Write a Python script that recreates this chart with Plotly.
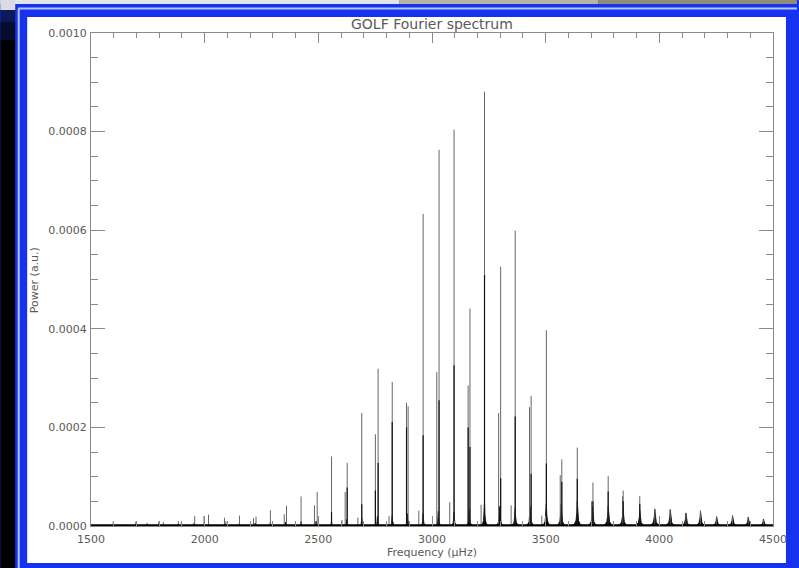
import plotly.graph_objects as go

# ---------------- data ----------------
freq_range = [1500, 4500]
power_range = [0.0, 0.0010]

x_tick_vals = [1500, 2000, 2500, 3000, 3500, 4000, 4500]
y_tick_vals = [0.0, 0.0002, 0.0004, 0.0006, 0.0008, 0.0010]
y_tick_text = ["0.0000", "0.0002", "0.0004", "0.0006", "0.0008", "0.0010"]

# thin spikes (mode peaks): frequency (µHz) and power (a.u.)
peak_freq = [1598, 1632, 1697, 1747, 1798, 1818, 1884, 1897, 1950, 1956,
             1997, 2017, 2087, 2093, 2153, 2215, 2226, 2289, 2350, 2360,
             2424, 2483, 2495, 2558, 2604, 2618, 2627, 2674, 2691, 2751,
             2763, 2811, 2825, 2888, 2895, 2942, 2961, 3021, 3031, 3078,
             3097, 3159, 3167, 3216, 3231, 3293, 3302, 3348, 3366, 3429,
             3436, 3483, 3503, 3564, 3571, 3639, 3702, 3708, 3775, 3838,
             3841, 3914, 3980, 4048, 4117, 4181, 4252, 4322, 4391, 4458]
peak_power = [9e-6, 3e-6, 9e-6, 6.5e-6, 9e-6, 8e-6, 1.0e-5, 8e-6, 6e-6, 2.0e-5,
              1.96e-5, 2.3e-5, 1.7e-5, 1.0e-5, 2.1e-5, 1.6e-5, 1.9e-5, 3.2e-5, 2.4e-5, 4.1e-5,
              6.0e-5, 4.2e-5, 6.9e-5, 1.41e-4, 1.2e-5, 6.9e-5, 1.28e-4, 1.7e-5, 2.29e-4, 1.86e-4,
              3.19e-4, 2.0e-5, 2.92e-4, 2.50e-4, 2.43e-4, 3.1e-5, 6.33e-4, 3.12e-4, 7.63e-4, 4.8e-5,
              8.04e-4, 2.85e-4, 4.41e-4, 4.3e-5, 8.81e-4, 2.29e-4, 5.26e-4, 4.2e-5, 5.99e-4, 2.41e-4,
              2.64e-4, 2.1e-5, 3.97e-4, 1.03e-4, 1.35e-4, 1.59e-4, 5.0e-5, 8.8e-5, 1.01e-4, 6.0e-5,
              7.2e-5, 6.1e-5, 3.5e-5, 3.4e-5, 2.7e-5, 3.2e-5, 1.9e-5, 2.1e-5, 1.8e-5, 1.3e-5]

# dark (overlapping) lower parts of the spikes
core_freq = [2558, 2627, 2691, 2751, 2763, 2825, 2888, 2961, 3031, 3097,
             3159, 3167, 3231, 3302, 3366, 3436, 3503, 3571, 3639, 3708,
             3775, 3841, 3914]
core_power = [2.8e-5, 7.8e-5, 4.4e-5, 7.2e-5, 1.28e-4, 2.11e-4, 2.0e-4, 1.84e-4, 2.55e-4, 3.26e-4,
              2.0e-4, 1.6e-4, 5.09e-4, 9.7e-5, 2.22e-4, 1.06e-4, 1.27e-4, 9.0e-5, 9.6e-5, 5.0e-5,
              7.0e-5, 5.0e-5, 4.5e-5]

# broad black bases of the mode profiles: centre, height, half-width (µHz)
hump_freq = [1956, 2017, 2090, 2153, 2222, 2289, 2356, 2424, 2490, 2558,
             2624, 2691, 2760, 2825, 2892, 2961, 3028, 3097, 3164, 3231,
             3298, 3366, 3432, 3503, 3568, 3639, 3706, 3775, 3840, 3914,
             3980, 4048, 4117, 4181, 4252, 4322, 4391, 4458]
hump_power = [4e-6, 4e-6, 5e-6, 5e-6, 6e-6, 7e-6, 8e-6, 9e-6, 1.0e-5, 1.1e-5,
              1.3e-5, 1.6e-5, 2.0e-5, 2.1e-5, 2.5e-5, 2.6e-5, 3.0e-5, 2.8e-5, 3.5e-5, 4.7e-5,
              4.0e-5, 3.6e-5, 4.0e-5, 4.5e-5, 4.5e-5, 5.0e-5, 4.0e-5, 4.0e-5, 3.6e-5, 3.2e-5,
              3.4e-5, 3.3e-5, 2.6e-5, 3.0e-5, 1.9e-5, 2.1e-5, 1.8e-5, 1.4e-5]
hump_halfwidth = [6, 6, 7, 7, 8, 8, 9, 9, 10, 10,
                  11, 12, 13, 14, 15, 16, 17, 18, 19, 20,
                  21, 22, 23, 24, 25, 26, 27, 28, 28, 29,
                  30, 30, 30, 30, 30, 30, 30, 30]

# noise floor along the bottom
noise_freq = [1500, 4500]
noise_power = [1.5e-6, 1.5e-6]

title_text = "GOLF Fourier spectrum"
x_title = "Frequency (\u03bcHz)"
y_title = "Power (a.u.)"

# ---------------- geometry / styles ----------------
W, H = 799, 568
ML, MR, MT, MB = 91, 24, 33, 42
PW, PH = W - ML - MR, H - MT - MB


def xp(px):
    return (px - ML) / PW


def yp(py):
    return (H - MB - py) / PH


FONT = "DejaVu Sans"
TXT = "#5a5a5a"
AX = "#8a8a8a"


def stems(fs, ps):
    xs, ys = [], []
    for f, p in zip(fs, ps):
        xs += [f, f, None]
        ys += [0, p, None]
    return xs, ys


# profile template of a mode base (relative units)
prof_x = [-1.0, -0.5, -0.22, -0.07, 0.0, 0.07, 0.22, 0.5, 1.0]
prof_y = [0.0, 0.07, 0.22, 0.55, 1.0, 0.55, 0.22, 0.07, 0.0]

hx, hy = [], []
for f, p, w in zip(hump_freq, hump_power, hump_halfwidth):
    hx += [f + w * r for r in prof_x] + [None]
    hy += [p * r for r in prof_y] + [None]

fig = go.Figure()

fig.add_trace(go.Scatter(x=hx, y=hy, mode="lines", fill="toself",
                         fillcolor="#000000", line=dict(color="#000000", width=0.8),
                         hoverinfo="skip", showlegend=False))
sx, sy = stems(peak_freq, peak_power)
fig.add_trace(go.Scatter(x=sx, y=sy, mode="lines",
                         line=dict(color="#666666", width=1),
                         hoverinfo="skip", showlegend=False))
cx, cy = stems(core_freq, core_power)
fig.add_trace(go.Scatter(x=cx, y=cy, mode="lines",
                         line=dict(color="#111111", width=1.2),
                         hoverinfo="skip", showlegend=False))
fig.add_trace(go.Scatter(x=noise_freq, y=noise_power, mode="lines",
                         line=dict(color="#000000", width=2),
                         hoverinfo="skip", showlegend=False))

# ---------------- frame (slide border) ----------------
shapes = []


def rect(x0, y0, x1, y1, color):
    shapes.append(dict(type="rect", xref="paper", yref="paper",
                       x0=xp(x0), x1=xp(x1), y0=yp(y1), y1=yp(y0),
                       fillcolor=color, line=dict(width=0), layer="below"))


def hline(x0, x1, y, color, width):
    shapes.append(dict(type="line", xref="paper", yref="paper",
                       x0=xp(x0), x1=xp(x1), y0=yp(y), y1=yp(y),
                       line=dict(color=color, width=width), layer="below"))


def vline(x, y0, y1, color, width):
    shapes.append(dict(type="line", xref="paper", yref="paper",
                       x0=xp(x), x1=xp(x), y0=yp(y0), y1=yp(y1),
                       line=dict(color=color, width=width), layer="below"))


rect(0, 0, 400, 4, "#e1e5e9")
rect(400, 0, 600, 4, "#b7b4a2")
rect(600, 0, 799, 4, "#8f8d77")
rect(0, 0, 15, 10, "#d9dde2")
rect(0, 10, 15, 22, "#0c1a5c")
rect(0, 22, 15, 40, "#060c2e")
rect(0, 40, 15, 568, "#000000")
hline(18, 799, 8.5, "#b8c3ff", 2)
vline(18.5, 8.5, 568, "#b8c3ff", 2)
rect(27, 17, 788, 563, "#ffffff")

annotations = [
    dict(text=title_text, xref="paper", yref="paper", x=xp(433), y=yp(23.5),
         xanchor="center", yanchor="middle", showarrow=False,
         font=dict(family=FONT, size=14, color=TXT)),
    dict(text=x_title, xref="paper", yref="paper", x=xp(433), y=yp(552),
         xanchor="center", yanchor="middle", showarrow=False,
         font=dict(family=FONT, size=11, color=TXT)),
    dict(text=y_title, xref="paper", yref="paper", x=xp(34), y=yp(280),
         xanchor="center", yanchor="middle", showarrow=False, textangle=-90,
         font=dict(family=FONT, size=11, color=TXT)),
]

fig.update_layout(
    width=W, height=H,
    margin=dict(l=ML, r=MR, t=MT, b=MB, pad=0),
    paper_bgcolor="#1532ef",
    plot_bgcolor="#ffffff",
    showlegend=False,
    shapes=shapes,
    annotations=annotations,
    xaxis=dict(range=freq_range, tickvals=x_tick_vals,
               ticks="inside", ticklen=10, tickwidth=1, tickcolor=AX,
               showline=True, linecolor=AX, linewidth=1, mirror="allticks",
               showgrid=False, zeroline=False, ticklabelstandoff=3,
               minor=dict(dtick=100, tick0=1500, ticks="inside", ticklen=5,
                          tickcolor=AX, showgrid=False),
               tickfont=dict(family=FONT, size=11, color=TXT)),
    yaxis=dict(range=power_range, tickvals=y_tick_vals, ticktext=y_tick_text,
               ticks="inside", ticklen=14, tickwidth=1, tickcolor=AX,
               showline=True, linecolor=AX, linewidth=1, mirror="allticks",
               showgrid=False, zeroline=False, ticklabelstandoff=1,
               minor=dict(dtick=0.00005, tick0=0, ticks="inside", ticklen=7,
                          tickcolor=AX, showgrid=False),
               tickfont=dict(family=FONT, size=11, color=TXT)),
)

fig.write_html("out.html")
